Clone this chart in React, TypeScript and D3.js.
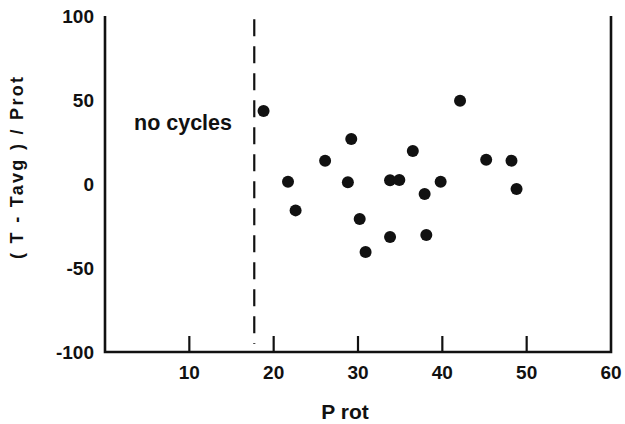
import React from "react";
import * as d3 from "d3";

const pRot = [18.8, 29.2, 36.5, 26.1, 21.7, 28.8, 33.8, 34.9, 39.8, 37.9, 22.6, 30.2, 33.8, 38.1, 30.9, 42.1, 45.2, 48.2, 48.8];
const dev = [43.5, 26.8, 19.6, 13.9, 1.4, 1.0, 2.2, 2.4, 1.3, -6.0, -15.7, -20.8, -31.5, -30.4, -40.5, 49.6, 14.5, 13.9, -3.0];
const xTicks = [10, 20, 30, 40, 50, 60];
const yTicks = [100, 50, 0, -50, -100];
const cutoff = 17.7;
const noteText = "no cycles";
const xTitle = "P rot";
const yTitle = "( T - Tavg ) / Prot";

const W = 625;
const H = 424;
const left = 105;
const right = 611;
const top = 16;
const bottom = 352;
const font = "'Liberation Sans', Arial, Helvetica, sans-serif";
const ink = "#111";

export default function App() {
  const x = d3.scaleLinear().domain([0, 60]).range([left, right]);
  const y = d3.scaleLinear().domain([-100, 100]).range([bottom, top]);
  const axisPath = d3.path();
  axisPath.moveTo(left, y(100));
  axisPath.lineTo(left, bottom);
  axisPath.lineTo(right, bottom);
  axisPath.lineTo(right, y(100));

  return (
    <svg width={W} height={H} style={{ position: "absolute", left: 0, top: 0, background: "#fff" }} fontFamily={font}>
      <rect width={W} height={H} fill="#fff" />
      <path d={axisPath.toString()} fill="none" stroke={ink} strokeWidth={2.6} strokeLinejoin="miter" />
      {xTicks.filter((t) => t < 60).map((t) => (
        <line key={"t" + t} x1={x(t)} x2={x(t)} y1={bottom} y2={bottom - 16} stroke={ink} strokeWidth={2.2} />
      ))}
      {xTicks.map((t) => (
        <text key={"xl" + t} x={x(t)} y={bottom + 20} textAnchor="middle" dominantBaseline="central" fontSize={19} fontWeight="bold" fill={ink}>
          {t}
        </text>
      ))}
      {yTicks.map((t) => (
        <text key={"yl" + t} x={94} y={y(t)} textAnchor="end" dominantBaseline="central" fontSize={19} fontWeight="bold" fill={ink}>
          {t}
        </text>
      ))}
      <line x1={x(cutoff)} x2={x(cutoff)} y1={y(98)} y2={bottom - 8} stroke={ink} strokeWidth={2.2} strokeDasharray="17 10" />
      {pRot.map((p, i) => (
        <circle key={"c" + i} cx={x(p)} cy={y(dev[i])} r={6} fill={ink} />
      ))}
      <text x={183} y={123} textAnchor="middle" dominantBaseline="central" fontSize={21.5} fontWeight="bold" fill={ink}>
        {noteText}
      </text>
      <text x={345} y={411} textAnchor="middle" dominantBaseline="central" fontSize={21} fontWeight="bold" fill={ink}>
        {xTitle}
      </text>
      <text transform={`translate(17,168) rotate(-90)`} textAnchor="middle" dominantBaseline="central" fontSize={18} fontWeight="bold" fill={ink} textLength={182} lengthAdjust="spacing">
        {yTitle}
      </text>
    </svg>
  );
}
